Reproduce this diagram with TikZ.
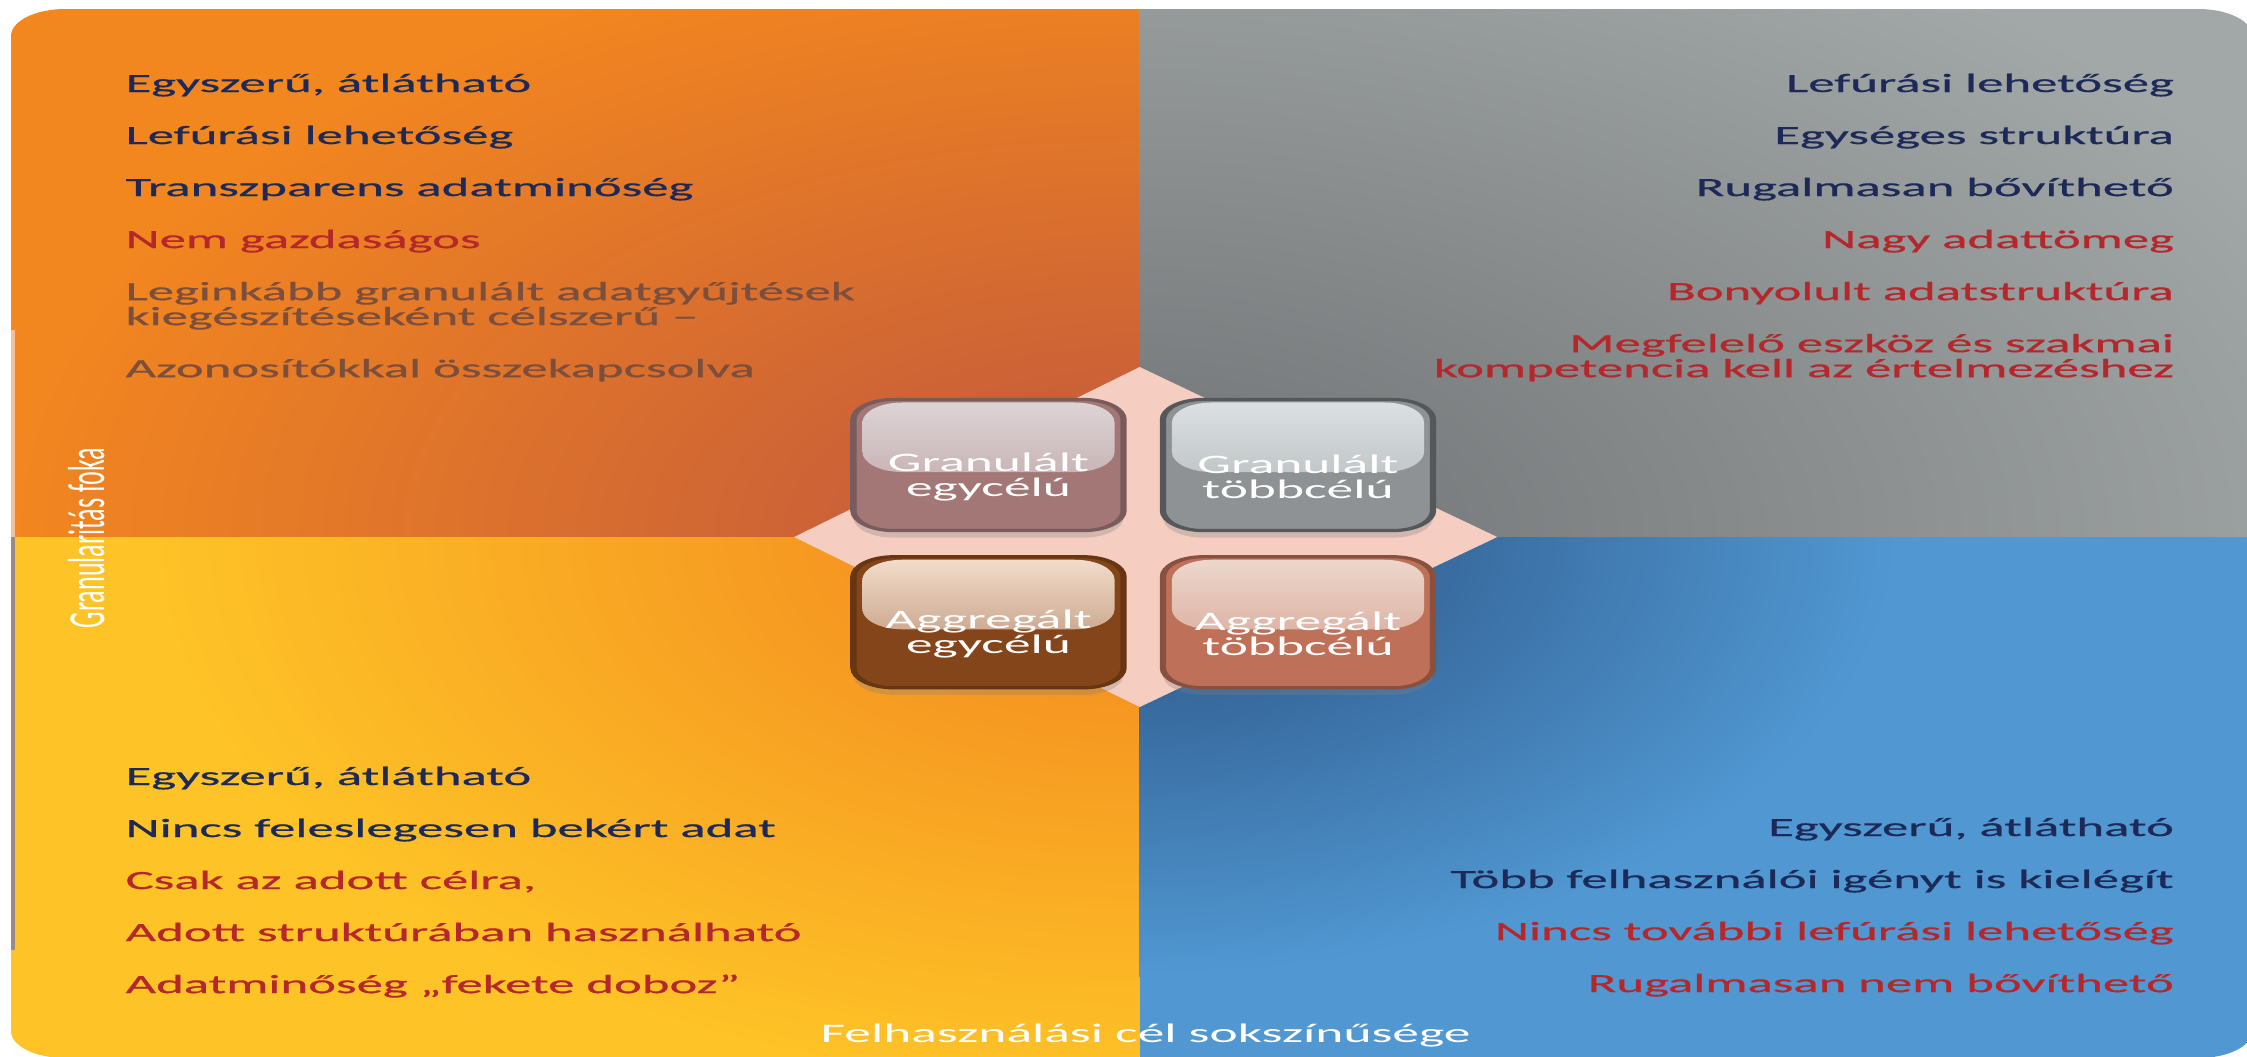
\documentclass[tikz,border=0pt]{standalone}
\usepackage{fontspec}
\setmainfont{Carlito}
\newfontfamily\itemfont[FakeBold=0.5]{Carlito}
\usetikzlibrary{positioning,shadows}

\definecolor{tlout}{HTML}{F3871F}
\definecolor{tlin}{HTML}{BE553F}
\definecolor{trout}{HTML}{A2A7A7}
\definecolor{trin}{HTML}{6F7274}
\definecolor{blout}{HTML}{FEC427}
\definecolor{blin}{HTML}{F2841F}
\definecolor{brout}{HTML}{5198D2}
\definecolor{brin}{HTML}{284E7E}
\definecolor{diamondpink}{HTML}{F5CEC1}
\definecolor{edgegrey}{HTML}{978A88}
\definecolor{edgelight}{HTML}{F2C19C}
\definecolor{navytext}{HTML}{1D2A58}
\definecolor{redtext}{HTML}{B5272B}
\definecolor{asidetext}{HTML}{7C4E3C}
% box colours: base, gloss, border
\definecolor{gebase}{HTML}{A27775}
\definecolor{gegloss}{HTML}{DDD5D7}
\definecolor{gebord}{HTML}{795B5D}
\definecolor{gtbase}{HTML}{8E9294}
\definecolor{gtgloss}{HTML}{DCE1E3}
\definecolor{gtbord}{HTML}{55585A}
\definecolor{aebase}{HTML}{84451A}
\definecolor{aegloss}{HTML}{F3DECE}
\definecolor{aebord}{HTML}{683512}
\definecolor{atbase}{HTML}{BE7058}
\definecolor{atgloss}{HTML}{EDD8CE}
\definecolor{atbord}{HTML}{88503F}

\newcommand\cellstrut{\rule{0pt}{12pt}}

\begin{document}
\begin{tikzpicture}[x=0.01cm, y=-0.01cm, node distance=0.52cm,
  item/.style={inner sep=0pt, anchor=base west, font=\itemfont\fontsize{7.5}{7.1}\selectfont},
  pro/.style={item, text=navytext},
  con/.style={item, text=redtext},
  aside/.style={item, text=asidetext, align=left},
  right item/.style={anchor=base east, align=right},
  row/.style={below=of #1.base west, anchor=base west},
  rrow/.style={below=of #1.base east, anchor=base east},
  cell/.style n args={3}{draw=#3, fill=#1, line width=0.9pt, rounded corners=0.2cm,
    minimum width=1.35cm, minimum height=1.31cm, inner sep=0pt, text=white, align=center,
    font=\fontsize{7.6}{7.1}\selectfont,
    drop shadow={opacity=0.3, shadow xshift=0pt, shadow yshift=-2pt},
    path picture={\shade[top color=#2, bottom color=#2!40!#1, rounded corners=0.2cm]
      ([xshift=0.045cm, yshift=-0.03cm]path picture bounding box.north west) rectangle
      ([xshift=-0.045cm, yshift=-0.07cm]path picture bounding box.east);}},
  axis text/.style={inner sep=0pt, text=white, font=\fontsize{7.6}{8}\selectfont}]

\useasboundingbox (0,0) rectangle (2247,1056);

% the whole picture is stretched two times in width
\begin{scope}[x=0.005cm, transform canvas={xscale=2}]

  % quadrants
  \begin{scope}
    \clip[rounded corners=0.27cm] (11,9) rectangle (2249,1058);
    \begin{scope}
      \clip (0,0) rectangle (1138,537);
      \fill[tlout] (0,0) rectangle (1138,537);
      \shade[inner color=tlin, outer color=tlout] (1138,537) ellipse (1150 and 620);
    \end{scope}
    \begin{scope}
      \clip (1138,0) rectangle (2260,537);
      \fill[trout] (1138,0) rectangle (2260,537);
      \shade[inner color=trin, outer color=trout] (1138,537) ellipse (1300 and 700);
    \end{scope}
    \begin{scope}
      \clip (0,537) rectangle (1138,1070);
      \fill[blout] (0,537) rectangle (1138,1070);
      \shade[inner color=blin, outer color=blout] (1138,537) ellipse (1000 and 560);
    \end{scope}
    \begin{scope}
      \clip (1138,537) rectangle (2260,1070);
      \fill[brout] (1138,537) rectangle (2260,1070);
      \shade[inner color=brin, outer color=brout] (1138,537) ellipse (760 and 440);
    \end{scope}
    \fill[edgelight] (11,330) rectangle (15,537);
    \fill[edgegrey] (11,537) rectangle (15,950);
  \end{scope}

  \fill[diamondpink] (1138,367) -- (1495,537) -- (1138,707) -- (793,537) -- cycle;

  % the four kinds of data collection
  \node[cell={gebase}{gegloss}{gebord}] (ge) at (987,465) {\cellstrut Granulált\\egycélú};
  \node[cell={gtbase}{gtgloss}{gtbord}, right=0.165cm of ge] (gt) {\cellstrut Granulált\\többcélú};
  \node[cell={aebase}{aegloss}{aebord}, below=0.23cm of ge] (ae) {\cellstrut Aggregált\\egycélú};
  \node[cell={atbase}{atgloss}{atbord}, below=0.23cm of gt] (at) {\cellstrut Aggregált\\többcélú};

  % granulált egycélú
  \node[pro] (tl1) at (124,92) {Egyszerű, átlátható};
  \node[pro, row=tl1] (tl2) {Lefúrási lehetőség};
  \node[pro, row=tl2] (tl3) {Transzparens adatminőség};
  \node[con, row=tl3] (tl4) {Nem gazdaságos};
  \node[aside, below=0.77cm of tl4.base west, anchor=base west] (tl5) {Leginkább granulált adatgyűjtések\\kiegészítéseként célszerű –};
  \node[aside, row=tl5] (tl6) {Azonosítókkal összekapcsolva};

  % granulált többcélú
  \node[pro, right item] (tr1) at (2172,92) {Lefúrási lehetőség};
  \node[pro, rrow=tr1] (tr2) {Egységes struktúra};
  \node[pro, rrow=tr2] (tr3) {Rugalmasan bővíthető};
  \node[con, rrow=tr3] (tr4) {Nagy adattömeg};
  \node[con, rrow=tr4] (tr5) {Bonyolult adatstruktúra};
  \node[con, right item, below=0.77cm of tr5.base east, anchor=base east] (tr6) {Megfelelő eszköz és szakmai\\kompetencia kell az értelmezéshez};

  % aggregált egycélú
  \node[pro] (bl1) at (124,785) {Egyszerű, átlátható};
  \node[pro, row=bl1] (bl2) {Nincs feleslegesen bekért adat};
  \node[con, row=bl2] (bl3) {Csak az adott célra,};
  \node[con, row=bl3] (bl4) {Adott struktúrában használható};
  \node[con, row=bl4] (bl5) {Adatminőség „fekete doboz”};

  % aggregált többcélú
  \node[pro, right item] (br1) at (2172,836) {Egyszerű, átlátható};
  \node[pro, rrow=br1] (br2) {Több felhasználói igényt is kielégít};
  \node[con, rrow=br2] (br3) {Nincs további lefúrási lehetőség};
  \node[con, rrow=br3] (br4) {Rugalmasan nem bővíthető};

  % axes
  \node[axis text, anchor=base west] (xaxis) at (818,1042) {Felhasználási cél sokszínűsége};
  \node[axis text, rotate=90, anchor=base, font=\fontsize{7.4}{8}\selectfont] (yaxis) at (104,538) {Granularitás foka};

\end{scope}

\end{tikzpicture}
\end{document}
